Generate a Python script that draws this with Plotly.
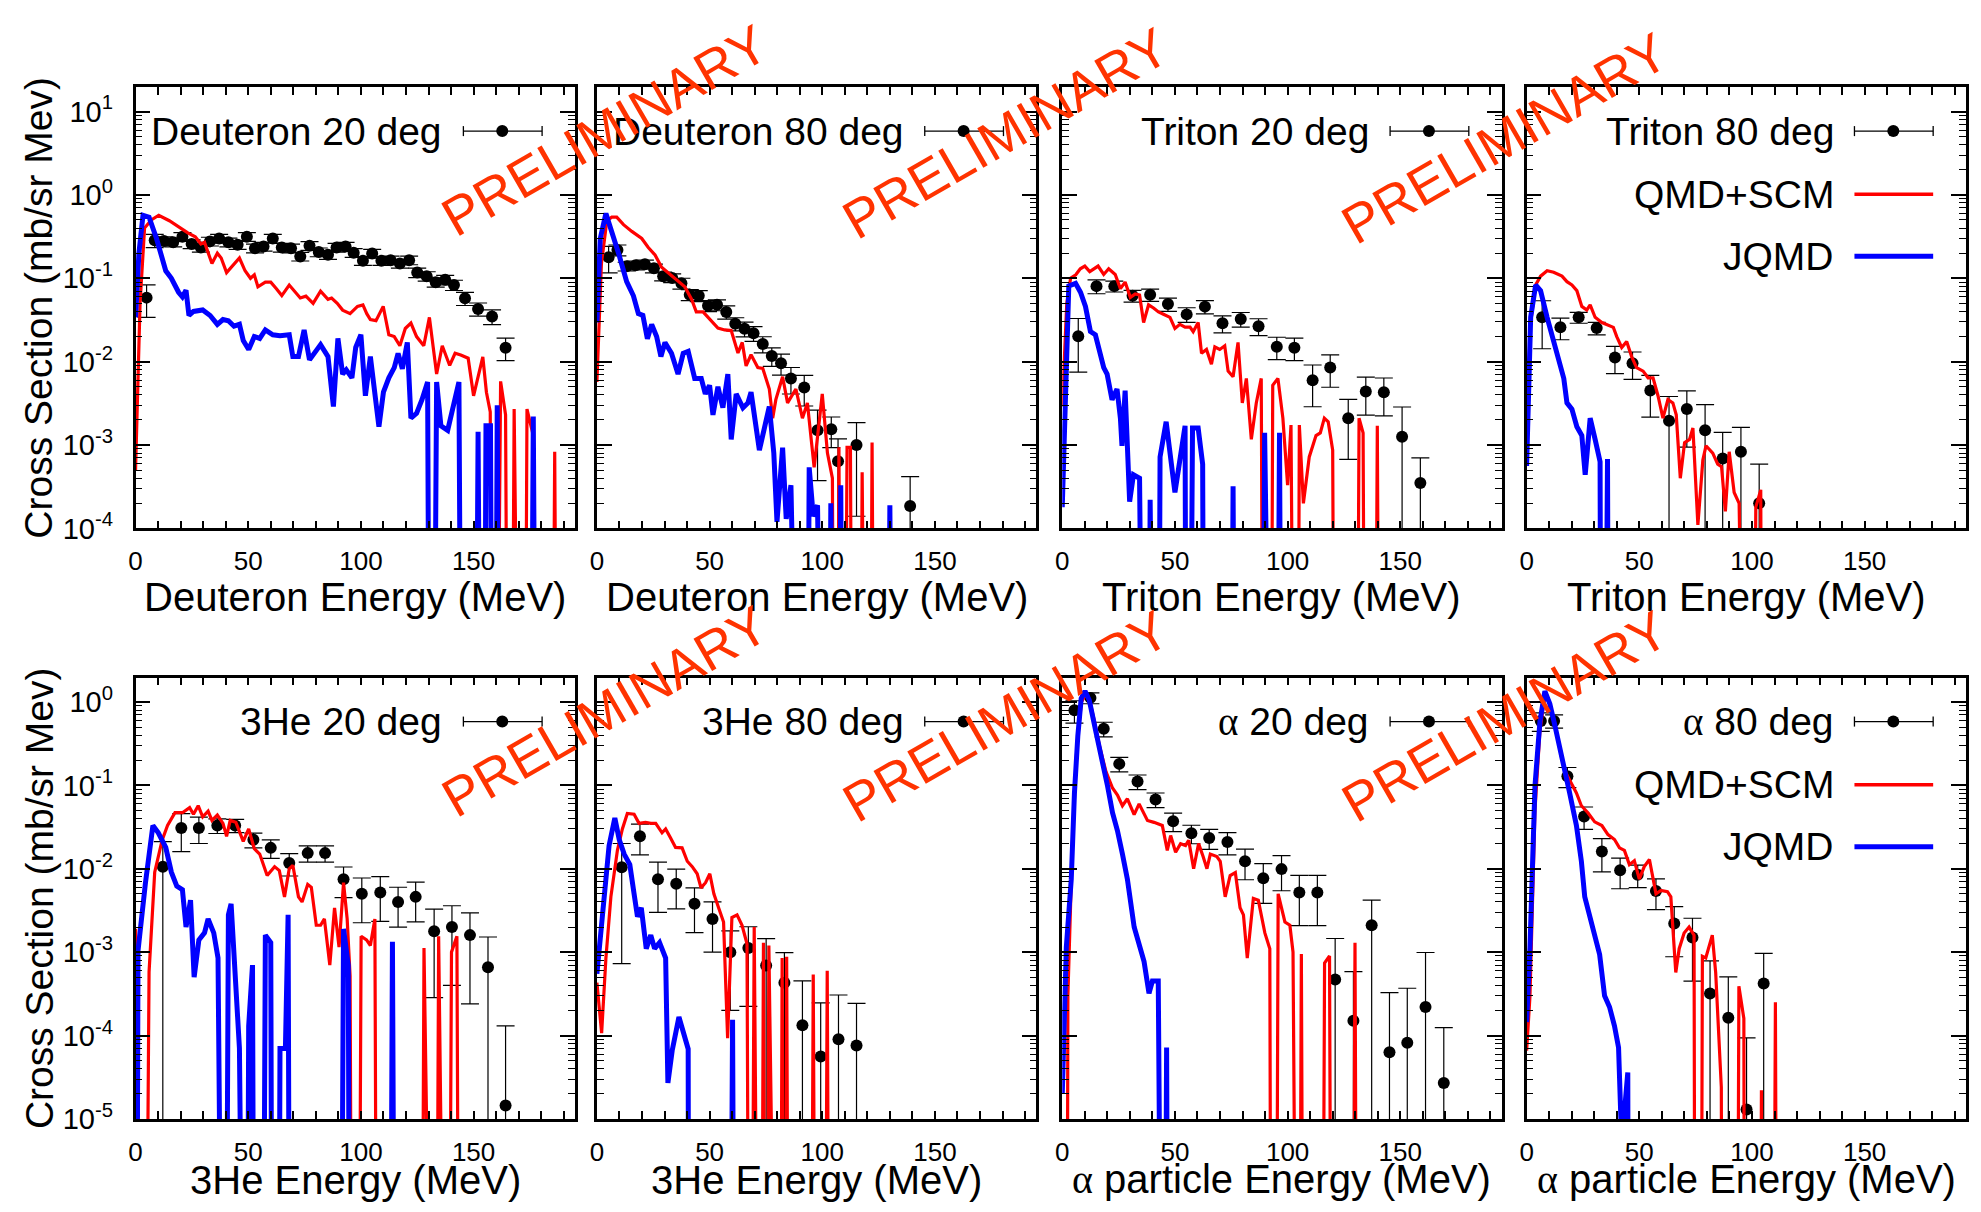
import numpy as np
import plotly.graph_objects as go

# picture size; the captured page comes out vertically scaled by ~0.986,
# so vertical positions are pre-compensated by that factor
W, H = 1981, 1212
FIG_W, FIG_H = W, H
VSCALE = 0.986

# ---------------- data: Deuteron 20 deg ----------------
d20_x = [4.9, 8.5, 12.6, 16.7, 20.8, 24.9, 29.0, 33.0, 37.1, 41.2, 45.3, 49.4, 53.0, 56.8, 60.9, 64.9, 69.0, 73.1, 77.2, 81.3,
         85.4, 89.2, 93.2, 96.8, 100.9, 105.0, 109.1, 113.2, 117.3, 121.4, 125.0, 129.2, 133.2, 137.4, 141.3, 146.2, 152.0, 158.2, 164.2]
d20_y = [0.0586, 0.285, 0.28, 0.27, 0.315, 0.258, 0.234, 0.277, 0.30, 0.27, 0.253, 0.315, 0.229, 0.241, 0.30, 0.234, 0.229, 0.183, 0.246, 0.206,
         0.192, 0.234, 0.241, 0.202, 0.162, 0.198, 0.162, 0.165, 0.15, 0.165, 0.117, 0.106, 0.0898, 0.096, 0.083, 0.0575, 0.0428, 0.0348, 0.0147]
d20_err = [0.42, 0.18, 0.12, 0.12, 0.12, 0.12, 0.12, 0.12, 0.12, 0.12, 0.12, 0.12, 0.12, 0.12, 0.12, 0.12, 0.12, 0.12, 0.12, 0.12,
           0.12, 0.12, 0.12, 0.12, 0.12, 0.12, 0.12, 0.12, 0.12, 0.12, 0.13, 0.13, 0.13, 0.13, 0.14, 0.18, 0.18, 0.2, 0.3]
d20_qmd_x = [0, 2, 4, 7, 10.3, 15, 20, 23.2, 26.5, 29, 30.6, 33.9, 36.3, 38, 40.4, 42.9, 46.1, 48.6, 51, 52.7, 54.3, 57.6, 60, 62.5, 64.9,
             68.2, 70.7, 73.1, 75.6, 78.8, 82.1, 85.4, 87, 89.5, 91.9, 95.2, 98.5, 100.9, 102.6, 104.2, 106.7, 109.9, 112.4, 114.8, 117.3,
             119.7, 122.2, 124.7, 127.9, 130.4, 133.6, 136.1, 139.4, 141.8, 144.3, 147.6, 150, 154.1, 155.7, 157.4, 159, 162, 164.2, 166,
             168, 170, 172, 173.7, 176.2, 178, 184, 186, 188]
d20_qmd_y = [0.0005, 0.05, 0.4, 0.5, 0.57, 0.49, 0.4, 0.35, 0.315, 0.258, 0.27, 0.15, 0.2, 0.175, 0.117, 0.14, 0.175, 0.123, 0.1, 0.11,
             0.079, 0.09, 0.09, 0.075, 0.062, 0.083, 0.068, 0.058, 0.061, 0.05, 0.07, 0.056, 0.058, 0.05, 0.0415, 0.0376, 0.046, 0.048,
             0.0376, 0.032, 0.031, 0.046, 0.021, 0.02, 0.0155, 0.025, 0.029, 0.02, 0.0155, 0.034, 0.0071, 0.0155, 0.009, 0.0126, 0.012,
             0.011, 0.0039, 0.0114, 0.0043, 0.0025, 0, 0.0058, 0.0023, 0, 0.0027, 0, 0, 0.0027, 0.0014, 0, 0, 0.00083, 0]
d20_jqmd_x = [0, 1.5, 3.3, 6, 9.3, 13.4, 15.9, 19.1, 20.8, 22.4, 23.7, 25.7, 29.8, 33.1, 36.3, 38.8, 41.2, 43.7, 46.1, 47.8, 50.2, 52.7,
              55.1, 57.6, 60.9, 64.1, 68.2, 69.8, 72.3, 74.8, 77.2, 82.1, 85.4, 87.8, 89.8, 91.9, 93.5, 96, 97.7, 100, 102, 104.2, 108,
              110, 112.4, 114.8, 116.5, 118.4, 120.6, 122.2, 124.7, 127.1, 129.6, 131.2, 133.6, 135.5, 138.5, 143.5, 145.5, 150, 152,
              154, 155.5, 157.5, 159, 160.5, 162, 174.5, 176.5, 178.5]
d20_jqmd_y = [0.034, 0.2, 0.57, 0.54, 0.3, 0.123, 0.1, 0.068, 0.06, 0.072, 0.0358, 0.04, 0.0417, 0.0358, 0.028, 0.032, 0.031, 0.0266,
              0.028, 0.0179, 0.014, 0.02, 0.019, 0.024, 0.021, 0.0205, 0.021, 0.0115, 0.0115, 0.024, 0.0105, 0.016, 0.0115, 0.0029,
              0.019, 0.0071, 0.008, 0.0064, 0.0148, 0.021, 0.0039, 0.0115, 0.00166, 0.0043, 0.0064, 0.0085, 0.0126, 0.0082, 0.017,
              0.0021, 0.0024, 0.0035, 0.0057, 0, 0.0057, 0.0017, 0.0015, 0.0057, 0, 0, 0.00144, 0, 0.0017, 0.0017, 0, 0.003, 0, 0,
              0.0022, 0]

# ---------------- data: Deuteron 80 deg ----------------
d80_x = [5.2, 9.1, 13.2, 17.2, 21.3, 25.3, 29.4, 33.4, 37.5, 41.2, 45.2, 49.3, 53.3, 57.4, 61.4, 65.5, 69.5, 73.6, 77.6, 81.7,
         86.1, 92.0, 97.9, 104.0, 107.0, 115.2, 139.0]
d80_y = [0.179, 0.218, 0.139, 0.143, 0.147, 0.132, 0.106, 0.101, 0.087, 0.0635, 0.0617, 0.0468, 0.048, 0.0395, 0.0285, 0.0248, 0.0219,
         0.0163, 0.0117, 0.0096, 0.0063, 0.0049, 0.0015, 0.00155, 0.00064, 0.001, 0.000186]
d80_err = [0.35, 0.15, 0.12, 0.12, 0.12, 0.12, 0.12, 0.12, 0.15, 0.15, 0.15, 0.15, 0.15, 0.18, 0.18, 0.2, 0.2, 0.22, 0.25, 0.28,
           0.35, 0.4, 0.75, 0.4, 0.85, 0.86, 1.25]
d80_qmd_x = [0, 2, 4.4, 6.6, 8.8, 11.8, 15.5, 19.9, 22.8, 25.8, 28.7, 32.4, 35.3, 39, 42, 44.1, 47.1, 50, 53.7, 56.7, 59.6, 62.6, 64.5,
             66.2, 68.4, 71.4, 73.6, 76.5, 78, 79.4, 82.4, 84.6, 88.3, 91.2, 93.4, 96.4, 100, 102.3, 104.5, 106, 107.4, 109, 111, 112.5,
             114, 116, 117.7, 119.5, 120.5, 122.1, 124]
d80_qmd_y = [0.0057, 0.15, 0.49, 0.54, 0.54, 0.44, 0.365, 0.3, 0.234, 0.19, 0.136, 0.111, 0.096, 0.079, 0.056, 0.0395, 0.0395, 0.0324,
             0.0253, 0.024, 0.0236, 0.0127, 0.017, 0.0089, 0.0121, 0.0085, 0.0083, 0.0047, 0.0021, 0.0035, 0.0066, 0.0032, 0.0047,
             0.0021, 0.0032, 0.00054, 0.0041, 0.0008, 0.0004, 0, 0.00094, 0, 0.00094, 0.00094, 0, 0, 0.00047, 0, 0, 0.00107, 0]
d80_jqmd_x = [0, 1.5, 4, 6.6, 9.6, 13.2, 16.2, 18.4, 20.4, 22.4, 24.3, 26.5, 28.4, 30.2, 33.1, 36, 38.3, 40.5, 43.4, 46.3, 48.1, 50,
              51.5, 53.7, 55.9, 58.1, 59.6, 61.8, 64.8, 67, 68.4, 72.1, 76.5, 78.5, 79.9, 82.4, 84, 86.1, 87.5, 92.5, 94.2, 96, 97.9,
              99.5, 102, 103.8, 105.5, 106.5, 108.2, 110, 128, 130, 132]
d80_jqmd_y = [0.0295, 0.3, 0.6, 0.365, 0.2, 0.091, 0.0617, 0.0376, 0.036, 0.0188, 0.028, 0.02, 0.0115, 0.017, 0.0126, 0.0071, 0.0126,
              0.0133, 0.0063, 0.0063, 0.0041, 0.0052, 0.0023, 0.005, 0.0028, 0.0071, 0.00117, 0.0041, 0.0028, 0.0032, 0.0043, 0.00087,
              0.0029, 0.0008, 0.00012, 0.00093, 0.00013, 0.00033, 0, 0, 0.00054, 0.00014, 0.00019, 0, 0, 0.0002, 0, 0, 0.00033, 0, 0,
              0.00019, 0]

# ---------------- data: Triton 20 deg ----------------
t20_x = [7.1, 15.2, 23.1, 31.2, 39.0, 46.9, 55.2, 63.3, 71.1, 79.2, 87.1, 95.2, 103.0, 111.1, 118.9, 126.9, 134.7, 142.7, 150.8, 158.9]
t20_y = [0.0202, 0.0805, 0.0805, 0.0617, 0.0635, 0.049, 0.0369, 0.0457, 0.0288, 0.0324, 0.0266, 0.0151, 0.0147, 0.006, 0.0085, 0.0021,
         0.0044, 0.0043, 0.00126, 0.00035]
t20_err = [0.63, 0.19, 0.15, 0.16, 0.17, 0.18, 0.2, 0.18, 0.23, 0.2, 0.23, 0.3, 0.3, 0.52, 0.42, 0.68, 0.48, 0.48, 1.27, 1.0]
t20_qmd_x = [0, 2, 3.7, 6, 8, 10, 12.2, 15.9, 18.4, 20.6, 23.5, 25.8, 27.9, 30.2, 32.4, 34.3, 36.1, 38.3, 40.5, 42.7, 44.9, 47.8, 50,
             52.2, 54.5, 56.7, 58.1, 60.3, 61.8, 64, 66.2, 67.7, 69.9, 72.1, 73.6, 75.8, 78, 79.9, 81.7, 83.9, 86.1, 88.3, 89.8, 92,
             93.4, 95.7, 97.9, 100, 101.5, 102.8, 104, 105.2, 107, 109.6, 112.6, 114.5, 116.3, 118, 120, 121.5, 130, 131.7, 133.5, 135,
             138, 139.8, 141.5]
t20_qmd_y = [0.0029, 0.05, 0.1, 0.11, 0.13, 0.14, 0.12, 0.14, 0.111, 0.13, 0.111, 0.075, 0.09, 0.059, 0.065, 0.063, 0.0295, 0.048, 0.044,
             0.0395, 0.037, 0.034, 0.025, 0.028, 0.026, 0.026, 0.0229, 0.0295, 0.0126, 0.014, 0.0093, 0.015, 0.014, 0.0155, 0.0077,
             0.0066, 0.017, 0.0032, 0.0063, 0.00117, 0.0032, 0.0063, 0, 0, 0.0052, 0.0063, 0.0021, 0.00033, 0.00174, 0, 0, 0.00174,
             0.0002, 0.00072, 0.0013, 0.0014, 0.0021, 0.0019, 0.00087, 0, 0, 0.0021, 0.0014, 0, 0, 0.0017, 0]
t20_jqmd_x = [0, 2.9, 5.9, 8.1, 10.3, 12.5, 14.7, 16.9, 18.4, 19.9, 22.1, 24.3, 25.8, 26.5, 27.9, 29.9, 31.6, 34.3, 35.5, 37.5, 39,
              40.5, 42, 43.4, 46.1, 50, 54.5, 55.5, 56.5, 57.8, 60.3, 62.3, 63.5, 74, 75.8, 77.5, 88, 89.8, 91.5, 94.5, 96.4, 98]
t20_jqmd_y = [0.00018, 0.081, 0.087, 0.068, 0.046, 0.023, 0.021, 0.0126, 0.0085, 0.0071, 0.0035, 0.0047, 0.0021, 0.00098, 0.0045,
              0.00021, 0.00044, 0.0004, 0, 0, 0.00022, 0, 0, 0.00072, 0.0019, 0.00027, 0.0017, 0, 0, 0.0016, 0.0016, 0.00059, 0, 0,
              0.00032, 0, 0, 0.0014, 0, 0, 0.0014, 0]

# ---------------- data: Triton 80 deg ----------------
t80_x = [6.9, 15.0, 23.1, 31.1, 39.2, 47.0, 54.9, 63.2, 71.1, 79.2, 87.0, 95.1, 103.2]
t80_y = [0.034, 0.0258, 0.034, 0.0253, 0.0112, 0.0096, 0.0045, 0.00195, 0.0027, 0.0015, 0.00069, 0.00083, 0.0002]
t80_err = [0.58, 0.29, 0.15, 0.17, 0.36, 0.36, 0.52, 0.96, 0.65, 1.04, 1.06, 0.96, 1.96]
t80_qmd_x = [0, 1.8, 4, 6.2, 9.1, 12, 15.7, 17.9, 20.1, 22.3, 24.5, 26.7, 28.2, 30.4, 33.4, 35.6, 38.5, 40, 42.2, 44.4, 46.6, 48.8,
             51.7, 53.9, 56.1, 58.3, 60.5, 62.7, 64.9, 66.4, 68.2, 70.1, 72.3, 73.8, 76, 78.2, 79.6, 82.6, 84.8, 86.5, 88.2, 89.9, 92.1,
             94.3, 95, 99.5, 101.7, 103.9, 105]
t80_qmd_y = [0.0019, 0.03, 0.083, 0.106, 0.123, 0.118, 0.106, 0.091, 0.083, 0.071, 0.046, 0.0417, 0.048, 0.034, 0.0295, 0.028, 0.0258,
             0.02, 0.0148, 0.0174, 0.0115, 0.0085, 0.0077, 0.0064, 0.0064, 0.0039, 0.0021, 0.0035, 0.0032, 0.0023, 0.0004, 0.00107,
             0.00117, 0.0016, 0.00011, 0.00066, 0.00098, 0.0008, 0.00059, 0.00055, 0.00016, 0.00083, 0.00027, 0.0002, 0, 0, 0.00018,
             0.00029, 0]
t80_jqmd_x = [0, 1.8, 4, 6.2, 9.1, 12, 14.3, 16.5, 17.9, 20.1, 22.3, 24.5, 26, 28.2, 30.4, 32.6, 33.5, 34.5, 35.9, 37]
t80_jqmd_y = [0.00056, 0.034, 0.083, 0.071, 0.034, 0.017, 0.0104, 0.0063, 0.0032, 0.0027, 0.00166, 0.0013, 0.00044, 0.0021, 0.00117,
              0.00063, 0, 0, 0.00068, 0]

# ---------------- data: 3He 20 deg ----------------
h20_x = [12.1, 20.3, 28.1, 36.3, 44.2, 52.3, 60.0, 68.2, 76.4, 84.1, 92.3, 100.4, 108.6, 116.5, 124.3, 132.5, 140.4, 148.4, 156.4, 164.2]
h20_y = [0.0106, 0.0309, 0.0309, 0.0331, 0.0331, 0.0223, 0.0178, 0.0117, 0.0154, 0.0154, 0.0075, 0.005, 0.0052, 0.004, 0.0046, 0.00178,
         0.002, 0.0016, 0.00066, 1.45e-5]
h20_err = [1.0, 0.48, 0.35, 0.2, 0.18, 0.2, 0.25, 0.3, 0.22, 0.22, 0.4, 0.55, 0.55, 0.5, 0.5, 0.84, 0.8, 0.85, 1.3, 8.0]
h20_qmd_x = [0, 1, 3.6, 6, 8.5, 11.8, 14.2, 17.5, 20.8, 24, 25.7, 27.8, 29.8, 32.2, 33.9, 36.3, 38.8, 40.4, 42, 44.5, 47.8, 50.2, 52.7,
             55.1, 58.4, 61.7, 63.8, 66.1, 68.2, 69.8, 72.3, 73.9, 76.4, 78, 80.2, 82.1, 83.8, 86.2, 88.3, 90.3, 92.3, 93.9, 95.2, 96.5,
             98.5, 100.1, 102.5, 104.2, 106.2, 107.5, 126.5, 128, 129.5, 133, 134.5, 136, 138.5, 140.2, 142.6, 144]
h20_qmd_y = [0.0019, 0, 0, 0.00058, 0.0091, 0.022, 0.033, 0.047, 0.047, 0.054, 0.045, 0.057, 0.042, 0.049, 0.038, 0.044, 0.035, 0.0245,
             0.038, 0.036, 0.0213, 0.03, 0.0174, 0.015, 0.0083, 0.0106, 0.0095, 0.0046, 0.01, 0.011, 0.0046, 0.004, 0.0065, 0.006,
             0.0021, 0.0021, 0.0025, 0.0007, 0.0034, 0.00115, 0.0068, 0.0025, 0.00052, 0, 0, 0.00155, 0.0014, 0.0012, 0.0025, 0, 0,
             0.00112, 0, 0, 0.00155, 0, 0, 0.001, 0.00155, 0]
h20_jqmd_x = [0, 1.1, 4.4, 7.7, 10.1, 13.4, 15.9, 18.3, 20.8, 22.4, 24.4, 26, 28.1, 30.6, 32.2, 34.7, 36.6, 38, 39.5, 41.2, 42.4, 46.1,
              47, 49, 50.2, 51.9, 53, 56, 57.6, 60, 61, 63, 64.1, 66.5, 67.7, 68.8, 90.5, 92.3, 94.4, 95.5, 112.5, 114, 115.5]
h20_jqmd_y = [0, 0.00104, 0.0068, 0.033, 0.027, 0.018, 0.0091, 0.0062, 0.0056, 0.002, 0.0042, 0.0005, 0.0014, 0.0017, 0.0025, 0.0017,
              0.00085, 0, 0, 0.0028, 0.0038, 0.00007, 0, 0, 0.00013, 0.0007, 0, 0, 0.0016, 0.0013, 0, 0, 0.00007, 0.00007, 0.0028, 0,
              0, 0.0019, 0.0007, 0, 0, 0.00133, 0]

# ---------------- data: 3He 80 deg ----------------
h80_x = [11.0, 19.1, 27.1, 35.2, 43.3, 51.3, 59.2, 67.2, 75.1, 83.2, 91.2, 99.3, 107.2, 115.2]
h80_y = [0.0104, 0.0245, 0.0075, 0.0066, 0.0038, 0.0025, 0.001, 0.00112, 0.00069, 0.00043, 0.000133, 5.6e-5, 9e-5, 7.6e-5]
h80_err = [0.93, 0.4, 0.6, 0.5, 0.55, 0.6, 0.8, 0.8, 1.1, 1.3, 2.4, 3.4, 2.4, 2.2]
h80_qmd_x = [0, 2.1, 4, 6.2, 9.1, 11.3, 13.5, 16.5, 18.7, 21.6, 23.9, 26.1, 28.9, 30.5, 32.7, 34.9, 37.8, 40.1, 42.3, 44.5, 46.2, 48.2,
             50.1, 51.9, 54, 56.2, 58, 59.9, 62.2, 64.4, 66.6, 68, 69.8, 71.5, 72.5, 73.9, 75.1, 76.3, 77.5, 81, 82.2, 83.4, 84.2, 85.5,
             94.5, 96, 97.5, 100.7, 102.2, 103.7]
h80_qmd_y = [0.00043, 0.000107, 0.00085, 0.0046, 0.0166, 0.03, 0.046, 0.045, 0.035, 0.036, 0.035, 0.035, 0.027, 0.03, 0.0234, 0.018,
             0.0178, 0.0123, 0.0106, 0.0087, 0.0059, 0.0068, 0.0087, 0.005, 0.0034, 0.0023, 0.000093, 0.0026, 0.0028, 0.0021, 0.00126,
             0, 0.002, 0, 0, 0.0013, 0, 0.0012, 0, 0, 0.00085, 0, 0.00088, 0, 0, 0.00054, 0, 0, 0.0006, 0]
h80_jqmd_x = [0, 2.5, 5.4, 7.95, 9.9, 12.1, 14.6, 16.5, 18, 19.7, 21.9, 23.9, 25.6, 27.8, 30.5, 31.5, 33.4, 36.4, 38.6, 40.5, 41, 58.5,
              60.2, 61.5]
h80_jqmd_y = [0.00055, 0.0028, 0.019, 0.0405, 0.0224, 0.015, 0.0112, 0.005, 0.00266, 0.0034, 0.0011, 0.0016, 0.0011, 0.0013, 0.00085,
              2.7e-5, 6.6e-5, 0.000167, 0.00011, 6.9e-5, 0, 0, 0.000155, 0]

# ---------------- data: alpha 20 deg ----------------
a20_x = [5.4, 12.5, 18.4, 25.3, 33.4, 41.4, 49.2, 57.3, 65.2, 73.3, 81.1, 89.2, 97.3, 105.2, 113.2, 121.1, 129.2, 137.3, 145.2, 153.1,
         161.2, 169.3]
a20_y = [0.796, 1.12, 0.476, 0.181, 0.111, 0.0675, 0.0372, 0.0266, 0.0234, 0.0209, 0.0123, 0.0077, 0.0099, 0.0052, 0.0052, 0.00047,
         0.00015, 0.0021, 6.3e-5, 8.2e-5, 0.00022, 2.7e-5]
a20_err = [0.3, 0.15, 0.2, 0.2, 0.2, 0.2, 0.25, 0.25, 0.27, 0.3, 0.4, 0.5, 0.45, 0.6, 0.6, 2.1, 2.9, 1.0, 4.2, 3.5, 3.5, 3.6]
a20_qmd_x = [0, 1.8, 2.5, 4.5, 6.5, 8.5, 10.5, 12.5, 14.5, 16.5, 19.4, 22.3, 24.5, 26.7, 28.9, 31.9, 34.1, 37.8, 40.7, 44.4, 46.6,
             48.1, 50.3, 52.5, 54.7, 56.1, 58.3, 60.5, 62.5, 64.2, 65.7, 68.6, 70.1, 72.3, 74.5, 76.8, 78.9, 80.4, 82.1, 84.8, 87, 89.9,
             92.1, 93, 94.5, 95.8, 98.8, 101, 102.4, 103.3, 104.8, 106.1, 107.4, 115, 116.4, 118.6, 119.8, 128.5, 129.9, 131.2]
a20_qmd_y = [0, 0, 0.0003, 0.02, 0.3, 1.0, 1.25, 0.95, 0.55, 0.3, 0.146, 0.093, 0.0766, 0.057, 0.069, 0.0445, 0.06, 0.038, 0.036,
             0.033, 0.0166, 0.025, 0.0158, 0.02, 0.019, 0.022, 0.01, 0.02, 0.014, 0.01, 0.015, 0.014, 0.0123, 0.0046, 0.0083, 0.009,
             0.0034, 0.0028, 0.00085, 0.0044, 0.0042, 0.0017, 0.0011, 0, 0, 0.005, 0.0023, 0.0021, 0.001, 0, 0, 0.00095, 0, 0, 0.00074,
             0.0009, 0, 0, 0.0013, 0]
a20_jqmd_x = [0, 1.8, 4, 5.4, 6.9, 8.4, 10.1, 12, 15, 17.9, 20.1, 22.3, 24.5, 26.7, 28.9, 31.9, 34.1, 36.3, 38.5, 40, 42.6, 43.3, 45,
              46.3, 47.5]
a20_jqmd_y = [2e-5, 0.00115, 0.0075, 0.08, 0.39, 1.1, 1.35, 1.05, 0.43, 0.195, 0.098, 0.047, 0.0285, 0.015, 0.0075, 0.002, 0.0013,
              0.00077, 0.00032, 0.00045, 0.00045, 0, 0, 7.2e-5, 0]

# ---------------- data: alpha 80 deg ----------------
a80_x = [6.3, 12.2, 18.1, 25.5, 33.4, 41.5, 49.3, 57.4, 65.5, 73.6, 81.4, 89.5, 97.6, 105.2]
a80_y = [0.593, 0.593, 0.129, 0.0423, 0.0161, 0.0096, 0.0085, 0.0054, 0.0022, 0.0015, 0.00032, 0.000163, 1.3e-5, 0.00042]
a80_err = [0.25, 0.18, 0.27, 0.3, 0.43, 0.4, 0.3, 0.4, 0.6, 0.7, 1.46, 2.1, 6.2, 1.3]
a80_qmd_x = [0, 1.5, 3.7, 5.9, 8.1, 10.3, 12.5, 15.5, 17.5, 19.9, 22.1, 24.3, 27.2, 30.2, 33.4, 36.1, 39, 41.2, 43.4, 45.6, 47.8, 50,
             52.2, 54.5, 57.4, 59.6, 62.5, 64, 66.2, 67.7, 69.9, 72.1, 74.3, 75, 77, 78, 79.5, 82.4, 83.9, 86.4, 87, 93, 94.2, 96.4, 97,
             103, 104.2, 105, 109, 110.4, 111.5]
a80_qmd_y = [6.6e-5, 0.0003, 0.05, 0.45, 1.2, 0.95, 0.55, 0.216, 0.14, 0.103, 0.081, 0.057, 0.047, 0.0365, 0.033, 0.0257, 0.0224,
             0.0178, 0.0166, 0.0112, 0.0125, 0.0075, 0.0106, 0.0129, 0.005, 0.0055, 0.0053, 0.0046, 0.00057, 0.0011, 0.0017, 0.002,
             0.0016, 0, 0, 0.00089, 0.00085, 0.0016, 0.00057, 2.4e-5, 0, 0, 0.00039, 0.00016, 0, 0, 2.2e-5, 0, 0, 0.00025, 0]
a80_jqmd_x = [0, 1.5, 3.7, 5.9, 8.1, 10.3, 12.5, 15.5, 19.1, 22.1, 24.3, 25.8, 28.7, 32.4, 34.6, 36.8, 39, 40.8, 42.2, 44.9, 45.5]
a80_jqmd_y = [0.000145, 0.00115, 0.098, 0.58, 1.35, 0.95, 0.53, 0.24, 0.081, 0.033, 0.0123, 0.0046, 0.0024, 0.00094, 0.0003, 0.00022,
              0.00013, 7.2e-5, 5e-6, 3.6e-5, 0]

# ---------------- text ----------------
ALPHA = '<span style="font-family:Liberation Serif">α</span>'
panel_labels = ["Deuteron 20 deg", "Deuteron 80 deg", "Triton 20 deg", "Triton 80 deg",
                "3He 20 deg", "3He 80 deg", ALPHA + " 20 deg", ALPHA + " 80 deg"]
x_titles = ["Deuteron Energy (MeV)", "Deuteron Energy (MeV)", "Triton Energy (MeV)", "Triton Energy (MeV)",
            "3He Energy (MeV)", "3He Energy (MeV)", ALPHA + " particle Energy (MeV)", ALPHA + " particle Energy (MeV)"]
y_title = "Cross Section (mb/sr Mev)"
model_names = ["QMD+SCM", "JQMD"]
watermark = "PRELIMINARY"
x_tick_values = list(range(0, 191, 10))
x_tick_labels = [str(v) if v % 50 == 0 else "" for v in x_tick_values]

panels = [
    (d20_x, d20_y, d20_err, d20_qmd_x, d20_qmd_y, d20_jqmd_x, d20_jqmd_y),
    (d80_x, d80_y, d80_err, d80_qmd_x, d80_qmd_y, d80_jqmd_x, d80_jqmd_y),
    (t20_x, t20_y, t20_err, t20_qmd_x, t20_qmd_y, t20_jqmd_x, t20_jqmd_y),
    (t80_x, t80_y, t80_err, t80_qmd_x, t80_qmd_y, t80_jqmd_x, t80_jqmd_y),
    (h20_x, h20_y, h20_err, h20_qmd_x, h20_qmd_y, h20_jqmd_x, h20_jqmd_y),
    (h80_x, h80_y, h80_err, h80_qmd_x, h80_qmd_y, h80_jqmd_x, h80_jqmd_y),
    (a20_x, a20_y, a20_err, a20_qmd_x, a20_qmd_y, a20_jqmd_x, a20_jqmd_y),
    (a80_x, a80_y, a80_err, a80_qmd_x, a80_qmd_y, a80_jqmd_x, a80_jqmd_y),
]

# ---------------- layout geometry (pixels of the final picture) ----------------
COL_LEFT = [129, 592, 1059, 1525]
ROW_TOP = [87, 677]
PW, PH = 441, 441
XTITLE_Y = [597, 1179]
Y_RANGES = [(-4, 1.293), (-5, 0.293)]
FONT = "Liberation Sans, Arial, Helvetica, sans-serif"
RED, BLUE = "#ff0000", "#0000ff"
WM_COLOR = "#ff3300"


def fx(p):
    return p / FIG_W


def fy(p):
    return 1 - (p / VSCALE) / FIG_H


def sup(e):
    return "10<sup>%d</sup>" % e


fig = go.Figure()
shapes, annotations = [], []
layout_axes = {}

for i, (px_, py_, pe_, qx, qy, jx, jy) in enumerate(panels):
    assert len(px_) == len(py_) == len(pe_), i
    assert len(qx) == len(qy), i
    assert len(jx) == len(jy), i
    n = i + 1
    row, col = divmod(i, 4)
    L, T = COL_LEFT[col], ROW_TOP[row]
    sfx = "" if n == 1 else str(n)
    xa, ya = "x" + sfx, "y" + sfx

    yv = np.array(py_, dtype=float)
    ev = np.array(pe_, dtype=float)
    fig.add_trace(go.Scatter(
        x=px_, y=yv, mode="markers", xaxis=xa, yaxis=ya, showlegend=False,
        marker=dict(color="black", size=12, line=dict(width=0)),
        error_y=dict(type="data", symmetric=False, array=yv * ev,
                     arrayminus=yv * np.minimum(ev, 0.99999),
                     color="black", thickness=1.2, width=9)))
    qv = np.array(qy, dtype=float)
    fig.add_trace(go.Scatter(
        x=qx, y=np.where(qv > 0, qv, 1e-12), mode="lines", xaxis=xa, yaxis=ya,
        showlegend=False, line=dict(color=RED, width=3.2)))
    jv = np.array(jy, dtype=float)
    fig.add_trace(go.Scatter(
        x=jx, y=np.where(jv > 0, jv, 1e-12), mode="lines", xaxis=xa, yaxis=ya,
        showlegend=False, line=dict(color=BLUE, width=5)))

    lo, hi = Y_RANGES[row]
    decades = list(range(lo, int(np.floor(hi)) + 1))
    minor_vals = [k * 10.0 ** e for e in range(lo, int(np.floor(hi)) + 1) for k in range(2, 10)]

    layout_axes["xaxis" + sfx] = dict(
        domain=[fx(L), fx(L + PW)], anchor=ya, range=[0, 195],
        tickmode="array", tickvals=x_tick_values, ticktext=x_tick_labels,
        ticks="inside", ticklen=8, tickwidth=1.5, tickcolor="black",
        showline=True, linecolor="black", linewidth=2.5, mirror="allticks",
        showgrid=False, zeroline=False, ticklabelstandoff=8,
        tickfont=dict(family=FONT, size=26, color="black"))
    layout_axes["yaxis" + sfx] = dict(
        domain=[fy(T + PH), fy(T)], anchor=xa, type="log", range=[lo, hi],
        tickmode="array", tickvals=[10.0 ** e for e in decades], ticktext=[sup(e) for e in decades],
        ticks="inside", ticklen=15, tickwidth=1.5, tickcolor="black",
        minor=dict(tickmode="array", tickvals=minor_vals, ticks="inside", ticklen=7,
                   tickwidth=1.2, tickcolor="black", showgrid=False),
        showline=True, linecolor="black", linewidth=2.5, mirror="allticks",
        showgrid=False, zeroline=False, showticklabels=(col == 0), ticklabelstandoff=14,
        tickfont=dict(family=FONT, size=29, color="black"))

    # x axis title
    annotations.append(dict(text=x_titles[i], x=fx(L + PW / 2), y=fy(XTITLE_Y[row]), xref="paper", yref="paper",
                            xanchor="center", yanchor="middle", showarrow=False,
                            font=dict(family=FONT, size=40, color="black")))
    # legend entry: data
    ly = T + 44
    annotations.append(dict(text=panel_labels[i], x=fx(L + 310), y=fy(ly), xref="paper", yref="paper",
                            xanchor="right", yanchor="middle", showarrow=False,
                            font=dict(family=FONT, size=39, color="black")))
    shapes.append(dict(type="line", xref="paper", yref="paper", x0=fx(L + 329), x1=fx(L + 408), y0=fy(ly), y1=fy(ly),
                       line=dict(color="black", width=1.3)))
    for cx in (L + 329, L + 408):
        shapes.append(dict(type="line", xref="paper", yref="paper", x0=fx(cx), x1=fx(cx), y0=fy(ly - 5), y1=fy(ly + 5),
                           line=dict(color="black", width=1.3)))
    shapes.append(dict(type="circle", xref="paper", yref="paper", xsizemode="pixel", ysizemode="pixel",
                       xanchor=fx(L + 368), yanchor=fy(ly), x0=-6, x1=6, y0=-6, y1=6,
                       fillcolor="black", line=dict(width=0)))
    if col == 3:
        for k, (name, colr, lw) in enumerate([(model_names[0], RED, 3.5), (model_names[1], BLUE, 5)]):
            yy = T + (107 if k == 0 else 169)
            annotations.append(dict(text=name, x=fx(L + 310), y=fy(yy), xref="paper", yref="paper",
                                    xanchor="right", yanchor="middle", showarrow=False,
                                    font=dict(family=FONT, size=39, color="black")))
            shapes.append(dict(type="line", xref="paper", yref="paper", x0=fx(L + 329), x1=fx(L + 408),
                               y0=fy(yy), y1=fy(yy), line=dict(color=colr, width=lw)))

# y axis titles
for T in ROW_TOP:
    annotations.append(dict(text=y_title, x=fx(32), y=fy(T + PH / 2), xref="paper", yref="paper",
                            xanchor="center", yanchor="middle", textangle=-90, showarrow=False,
                            font=dict(family=FONT, size=39, color="black")))

# watermarks
for (cx, cy) in [(600, 130), (1002, 133), (1503, 138), (600, 710), (1002, 715), (1503, 715)]:
    annotations.append(dict(text=watermark, x=fx(cx), y=fy(cy), xref="paper", yref="paper",
                            xanchor="center", yanchor="middle", textangle=-30, showarrow=False,
                            font=dict(family=FONT, size=54, color=WM_COLOR)))

fig.update_layout(
    width=FIG_W, height=FIG_H, autosize=False,
    margin=dict(l=0, r=0, t=0, b=0, pad=0),
    paper_bgcolor="white", plot_bgcolor="white",
    showlegend=False, shapes=shapes, annotations=annotations,
    **layout_axes)

fig.write_html(
    "out.html",
    config={"displayModeBar": False, "responsive": False},
    post_script=("document.documentElement.style.margin='0';document.documentElement.style.padding='0';"
                 "document.body.style.margin='0';document.body.style.padding='0';"
                 "document.documentElement.style.overflow='hidden';document.body.style.overflow='hidden';"))
